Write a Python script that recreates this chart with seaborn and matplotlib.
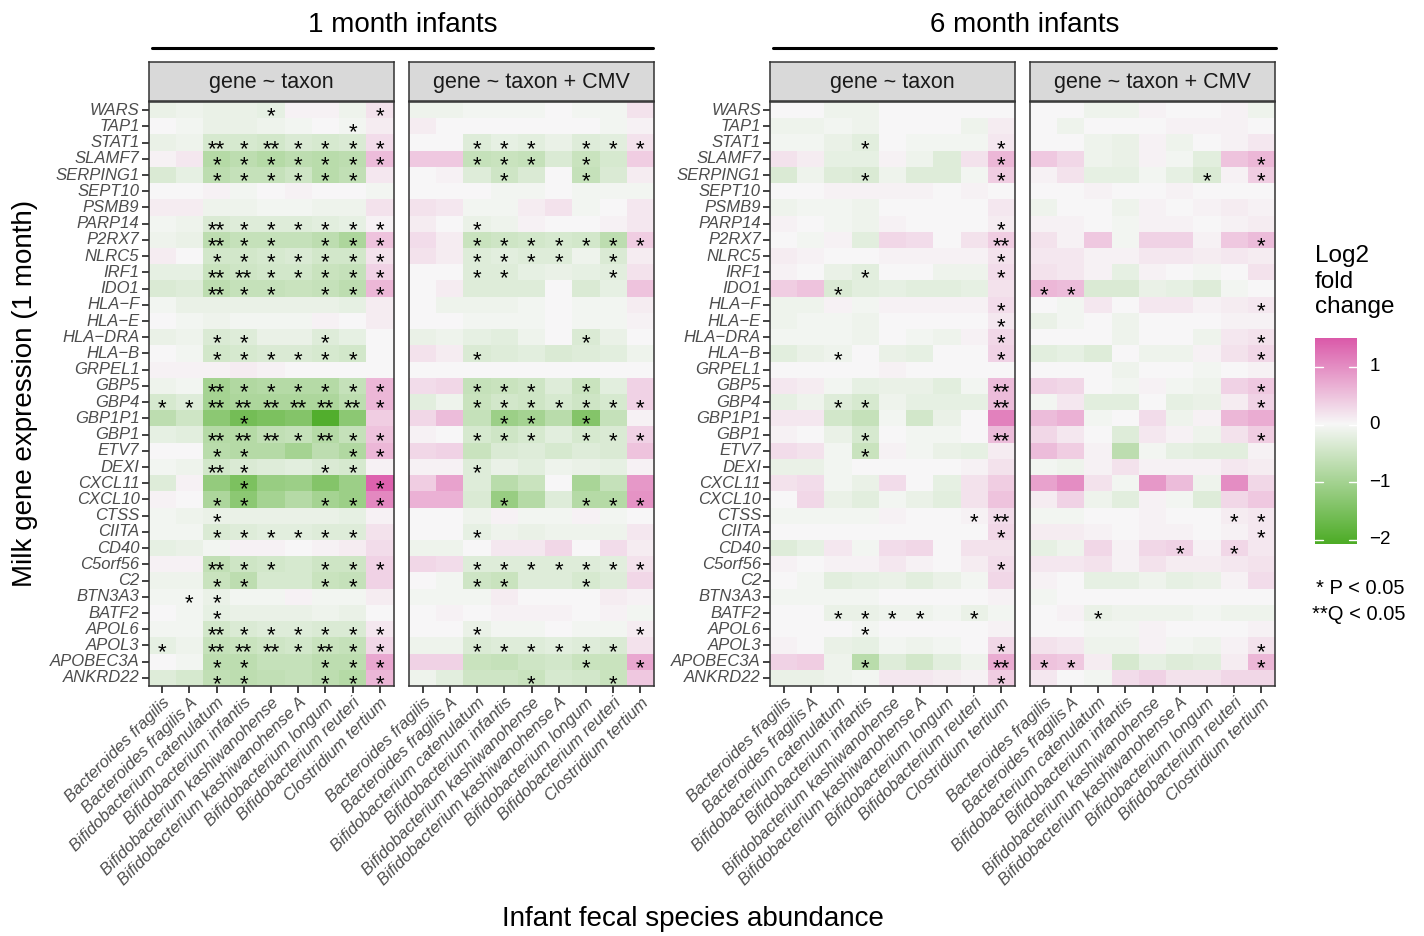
import numpy as np
import pandas as pd
import matplotlib
matplotlib.use("Agg")
import matplotlib.pyplot as plt
import seaborn as sns
from matplotlib.colors import LinearSegmentedColormap, Normalize
from matplotlib.lines import Line2D

# ---------------- data ----------------
genes = ["WARS", "TAP1", "STAT1", "SLAMF7", "SERPING1", "SEPT10", "PSMB9", "PARP14",
         "P2RX7", "NLRC5", "IRF1", "IDO1", "HLA-F", "HLA-E", "HLA-DRA", "HLA-B",
         "GRPEL1", "GBP5", "GBP4", "GBP1P1", "GBP1", "ETV7", "DEXI", "CXCL11",
         "CXCL10", "CTSS", "CIITA", "CD40", "C5orf56", "C2", "BTN3A3", "BATF2",
         "APOL6", "APOL3", "APOBEC3A", "ANKRD22"]

taxa = ["Bacteroides fragilis", "Bacteroides fragilis A", "Bifidobacterium catenulatum",
        "Bifidobacterium infantis", "Bifidobacterium kashiwanohense",
        "Bifidobacterium kashiwanohense A", "Bifidobacterium longum",
        "Bifidobacterium reuteri", "Clostridium tertium"]

panel_titles = ["gene ~ taxon", "gene ~ taxon + CMV", "gene ~ taxon", "gene ~ taxon + CMV"]
group_titles = ["1 month infants", "6 month infants"]

# log2 fold change, rows = genes, cols = taxa
lfc_1m_taxon = [
    [-0.15, -0.10, -0.15, -0.15, -0.20, 0.05, 0.05, -0.10, 0.20],
    [0.00, -0.05, -0.15, -0.15, -0.10, -0.05, 0.00, -0.05, 0.10],
    [-0.15, -0.10, -0.40, -0.40, -0.45, -0.35, -0.40, -0.35, 0.25],
    [0.05, 0.15, -0.80, -0.70, -0.80, -0.70, -0.75, -0.70, 0.55],
    [-0.35, -0.20, -0.70, -0.60, -0.60, -0.50, -0.75, -0.65, 0.15],
    [0.00, 0.00, 0.05, -0.05, 0.00, 0.05, 0.00, 0.00, -0.05],
    [0.10, 0.10, -0.10, -0.10, -0.05, -0.05, -0.10, -0.10, 0.20],
    [-0.05, -0.10, -0.35, -0.30, -0.30, -0.30, -0.25, -0.20, 0.05],
    [-0.10, -0.15, -0.70, -0.60, -0.60, -0.60, -0.70, -0.90, 0.50],
    [0.10, 0.00, -0.45, -0.45, -0.40, -0.35, -0.45, -0.45, 0.20],
    [-0.20, -0.20, -0.55, -0.50, -0.45, -0.45, -0.55, -0.60, 0.35],
    [-0.35, -0.30, -0.70, -0.60, -0.60, -0.55, -0.60, -0.70, 0.60],
    [-0.05, -0.15, -0.15, -0.15, -0.15, -0.15, -0.15, -0.20, 0.10],
    [0.00, -0.05, -0.10, -0.05, -0.05, -0.05, 0.05, 0.00, 0.10],
    [-0.15, -0.10, -0.35, -0.30, -0.15, -0.15, -0.30, -0.20, 0.00],
    [0.00, -0.05, -0.45, -0.40, -0.35, -0.35, -0.40, -0.45, 0.00],
    [0.05, 0.05, 0.05, 0.10, 0.05, 0.00, 0.00, 0.00, 0.00],
    [-0.10, -0.05, -1.00, -0.85, -0.80, -0.80, -0.80, -0.60, 0.60],
    [-0.40, -0.30, -1.00, -0.90, -0.90, -0.90, -0.90, -0.70, 0.60],
    [-0.70, -0.50, -1.30, -1.60, -1.50, -1.40, -2.00, -1.30, 0.40],
    [-0.20, -0.25, -0.80, -0.80, -0.65, -0.60, -0.80, -0.60, 0.50],
    [0.00, 0.00, -0.75, -0.80, -0.80, -1.00, -0.70, -0.85, 0.60],
    [-0.05, -0.10, -0.45, -0.35, -0.30, -0.25, -0.35, -0.40, 0.05],
    [-0.30, 0.05, -1.20, -1.50, -1.15, -1.10, -1.40, -1.10, 1.40],
    [0.05, 0.00, -0.90, -1.30, -1.00, -0.80, -1.00, -1.10, 1.05],
    [-0.05, -0.10, -0.15, -0.15, -0.15, -0.15, -0.15, -0.20, 0.05],
    [-0.05, -0.05, -0.35, -0.30, -0.25, -0.25, -0.30, -0.30, 0.20],
    [-0.20, -0.15, -0.05, 0.05, 0.05, 0.00, 0.05, 0.10, 0.25],
    [0.05, 0.05, -0.65, -0.50, -0.45, -0.40, -0.50, -0.50, 0.35],
    [-0.10, -0.10, -0.55, -0.70, -0.40, -0.40, -0.55, -0.60, 0.35],
    [-0.05, -0.05, -0.15, -0.05, -0.05, 0.05, -0.05, -0.05, 0.10],
    [0.00, -0.05, -0.20, -0.15, -0.15, -0.15, -0.10, -0.15, 0.00],
    [-0.05, -0.05, -0.45, -0.35, -0.30, -0.30, -0.35, -0.35, 0.15],
    [-0.20, -0.10, -0.60, -0.55, -0.50, -0.45, -0.55, -0.60, 0.30],
    [0.00, -0.05, -0.70, -0.70, -0.60, -0.60, -0.70, -0.70, 0.75],
    [-0.30, -0.40, -0.65, -0.70, -0.65, -0.60, -0.70, -0.80, 0.60],
]

lfc_1m_cmv = [
    [-0.10, -0.10, -0.05, -0.05, -0.05, 0.00, -0.05, -0.05, 0.20],
    [0.10, 0.00, 0.00, 0.00, 0.00, 0.00, 0.00, -0.05, 0.05],
    [0.00, 0.00, -0.30, -0.20, -0.25, -0.15, -0.30, -0.25, 0.20],
    [0.45, 0.45, -0.60, -0.55, -0.60, -0.35, -0.55, -0.40, 0.40],
    [0.00, 0.05, -0.30, -0.50, -0.35, 0.00, -0.60, -0.35, 0.10],
    [0.00, 0.00, 0.00, -0.05, -0.05, 0.00, -0.05, -0.05, -0.05],
    [0.20, 0.15, -0.05, -0.05, 0.10, 0.20, -0.05, 0.00, 0.15],
    [0.10, 0.00, -0.15, -0.10, 0.05, 0.00, 0.00, 0.05, 0.15],
    [0.25, 0.10, -0.55, -0.50, -0.45, -0.40, -0.45, -0.70, 0.40],
    [0.20, 0.10, -0.30, -0.25, -0.30, -0.30, -0.10, -0.35, 0.10],
    [0.00, 0.00, -0.30, -0.30, -0.20, -0.15, -0.20, -0.25, 0.20],
    [0.00, 0.10, -0.30, -0.30, -0.30, 0.00, -0.35, -0.20, 0.50],
    [0.00, -0.10, -0.10, -0.10, -0.05, 0.00, -0.05, -0.05, 0.10],
    [0.00, 0.00, -0.05, -0.05, -0.05, 0.00, -0.05, -0.05, 0.05],
    [-0.15, -0.10, -0.20, -0.25, -0.10, 0.00, -0.35, -0.15, 0.00],
    [0.20, 0.10, -0.35, -0.30, -0.25, -0.35, -0.30, -0.25, -0.10],
    [0.00, 0.00, 0.00, 0.00, 0.00, 0.00, 0.00, 0.00, 0.00],
    [0.25, 0.30, -0.60, -0.55, -0.50, -0.30, -0.55, -0.25, 0.35],
    [-0.25, -0.10, -0.55, -0.45, -0.50, -0.40, -0.50, -0.40, 0.35],
    [0.30, 0.55, -0.60, -1.10, -1.00, -0.75, -1.40, -0.60, 0.05],
    [0.05, 0.00, -0.40, -0.50, -0.40, -0.25, -0.40, -0.35, 0.35],
    [0.30, 0.35, -0.55, -0.35, -0.30, -0.40, -0.30, -0.35, 0.50],
    [0.05, 0.05, -0.30, -0.15, -0.25, -0.10, -0.15, -0.20, 0.05],
    [0.40, 0.80, -0.30, -0.75, -0.55, 0.00, -0.95, -0.60, 0.90],
    [0.65, 0.65, -0.35, -1.15, -0.80, -0.30, -0.80, -0.80, 0.95],
    [0.00, 0.00, -0.10, 0.05, -0.05, -0.05, 0.05, -0.05, 0.00],
    [0.00, 0.00, -0.20, -0.10, -0.15, -0.10, -0.10, -0.10, 0.15],
    [-0.10, -0.10, 0.00, 0.15, 0.15, 0.30, 0.00, 0.25, 0.10],
    [0.30, 0.25, -0.30, -0.30, -0.30, -0.30, -0.30, -0.25, 0.20],
    [0.00, -0.05, -0.50, -0.55, -0.30, -0.30, -0.40, -0.30, 0.30],
    [-0.05, -0.05, -0.05, 0.10, 0.00, 0.00, 0.00, 0.10, 0.05],
    [0.00, 0.05, 0.00, 0.05, 0.05, 0.05, 0.00, 0.05, -0.05],
    [0.00, 0.00, -0.15, -0.05, -0.05, 0.00, -0.05, -0.05, 0.10],
    [-0.10, -0.10, -0.35, -0.30, -0.30, -0.25, -0.30, -0.35, 0.20],
    [0.35, 0.35, -0.55, -0.60, -0.50, -0.45, -0.55, -0.55, 0.75],
    [-0.10, -0.25, -0.50, -0.50, -0.55, -0.40, -0.45, -0.55, 0.45],
]

lfc_6m_taxon = [
    [0.00, 0.00, -0.10, -0.10, 0.00, 0.00, 0.00, 0.00, 0.00],
    [-0.10, -0.10, -0.05, -0.10, 0.00, 0.00, 0.00, -0.10, 0.10],
    [-0.05, -0.05, -0.15, -0.25, 0.00, -0.05, -0.05, -0.05, 0.15],
    [0.20, 0.10, -0.20, -0.20, 0.05, -0.10, -0.30, 0.20, 0.60],
    [-0.35, -0.10, -0.30, -0.35, -0.10, -0.30, -0.30, -0.05, 0.40],
    [0.00, 0.00, 0.05, 0.05, 0.05, 0.05, 0.00, 0.05, 0.00],
    [-0.10, -0.05, -0.05, -0.10, 0.00, 0.00, 0.00, 0.00, 0.15],
    [0.05, 0.00, -0.05, -0.10, 0.05, 0.00, 0.00, 0.00, 0.10],
    [0.00, -0.05, 0.05, -0.25, 0.30, 0.25, 0.00, 0.20, 0.40],
    [0.10, 0.05, 0.00, 0.00, 0.05, 0.05, 0.05, 0.05, 0.20],
    [0.05, 0.00, -0.15, -0.25, 0.00, 0.00, -0.10, -0.10, 0.25],
    [0.40, 0.50, -0.35, -0.25, -0.20, -0.25, -0.25, -0.20, 0.20],
    [-0.10, -0.10, 0.05, -0.05, 0.05, 0.05, 0.05, 0.05, 0.25],
    [-0.10, -0.05, -0.05, -0.10, 0.00, 0.00, 0.00, 0.00, 0.15],
    [-0.05, -0.05, -0.05, -0.10, 0.00, -0.05, -0.10, 0.05, 0.30],
    [-0.25, -0.15, -0.10, 0.00, -0.15, -0.20, 0.00, 0.00, 0.35],
    [0.00, 0.00, 0.00, 0.00, 0.05, 0.00, 0.00, 0.00, 0.00],
    [0.15, 0.10, -0.05, -0.20, -0.15, -0.15, -0.25, -0.05, 0.55],
    [-0.20, -0.10, -0.30, -0.40, -0.10, -0.20, -0.20, -0.20, 0.55],
    [0.15, 0.15, -0.45, -0.60, -0.05, -0.45, -0.15, 0.00, 1.10],
    [0.05, 0.00, -0.15, -0.40, 0.00, -0.05, -0.05, 0.00, 0.55],
    [0.25, 0.20, -0.05, -0.55, 0.05, -0.05, -0.15, -0.20, 0.10],
    [-0.15, -0.15, -0.05, 0.00, 0.00, 0.00, 0.00, 0.05, 0.20],
    [0.20, 0.25, -0.05, -0.15, 0.25, 0.00, -0.20, 0.20, 0.40],
    [0.00, 0.30, -0.15, -0.25, -0.05, -0.15, -0.25, 0.20, 0.50],
    [-0.05, -0.05, -0.05, -0.05, 0.05, 0.00, 0.00, 0.05, 0.25],
    [0.00, 0.00, 0.00, 0.00, 0.00, 0.00, 0.00, 0.00, 0.30],
    [-0.30, -0.20, 0.15, -0.05, 0.25, 0.30, 0.00, 0.20, 0.20],
    [0.05, 0.00, 0.05, 0.05, 0.15, 0.05, 0.00, 0.10, 0.25],
    [0.00, -0.05, -0.25, -0.20, -0.15, -0.25, -0.15, -0.05, 0.30],
    [-0.05, -0.05, -0.05, -0.05, 0.00, 0.00, 0.00, 0.00, 0.05],
    [0.00, 0.00, -0.15, -0.15, -0.10, -0.10, -0.05, -0.15, -0.05],
    [0.00, 0.00, 0.00, -0.05, 0.00, 0.00, 0.00, 0.00, 0.05],
    [0.05, 0.00, -0.15, -0.20, -0.05, -0.10, -0.05, 0.00, 0.30],
    [0.35, 0.40, -0.10, -0.75, -0.30, -0.45, -0.25, -0.10, 0.70],
    [-0.15, -0.15, -0.10, -0.05, 0.15, 0.15, 0.10, 0.05, 0.40],
]

lfc_6m_cmv = [
    [0.00, 0.00, -0.10, -0.10, 0.05, 0.00, 0.00, 0.05, -0.10],
    [0.00, -0.10, 0.00, 0.00, 0.00, 0.05, 0.05, 0.05, 0.00],
    [0.00, 0.00, -0.10, -0.15, 0.05, -0.10, 0.00, 0.05, 0.15],
    [0.45, 0.30, -0.10, -0.15, 0.05, -0.05, -0.25, 0.50, 0.60],
    [0.05, 0.20, -0.20, -0.20, -0.05, -0.20, -0.35, 0.05, 0.40],
    [0.00, 0.00, 0.05, 0.00, 0.00, 0.05, 0.00, 0.00, 0.00],
    [-0.10, 0.00, 0.00, -0.10, 0.05, 0.00, 0.05, 0.10, 0.05],
    [0.05, 0.05, 0.00, -0.05, 0.05, 0.05, 0.00, 0.05, 0.10],
    [0.20, 0.05, 0.45, -0.05, 0.35, 0.35, 0.05, 0.45, 0.55],
    [0.15, 0.15, 0.05, 0.05, 0.15, 0.15, 0.10, 0.15, 0.10],
    [0.20, 0.15, 0.05, -0.20, 0.05, 0.00, -0.05, 0.00, 0.20],
    [0.60, 0.55, -0.35, -0.35, -0.15, -0.20, -0.30, -0.05, 0.00],
    [0.00, -0.05, 0.15, 0.00, 0.15, 0.15, 0.05, 0.10, 0.15],
    [-0.15, -0.05, 0.00, -0.10, 0.00, 0.00, 0.00, 0.05, 0.05],
    [0.00, 0.00, 0.00, -0.10, 0.00, 0.00, -0.10, 0.15, 0.20],
    [-0.25, -0.20, -0.30, 0.00, -0.10, -0.10, 0.05, 0.20, 0.30],
    [0.00, 0.00, 0.00, -0.10, 0.00, 0.00, -0.05, 0.00, 0.05],
    [0.35, 0.30, 0.00, -0.05, 0.05, -0.05, -0.10, 0.35, 0.45],
    [-0.05, 0.15, -0.25, -0.25, 0.00, -0.20, -0.15, 0.10, 0.35],
    [0.55, 0.65, -0.05, 0.00, 0.25, -0.10, 0.05, 0.60, 0.70],
    [0.30, 0.15, 0.00, -0.30, 0.15, 0.05, -0.10, 0.20, 0.40],
    [0.55, 0.40, 0.05, -0.70, -0.05, -0.20, -0.25, -0.25, 0.05],
    [-0.05, -0.10, 0.05, 0.20, 0.05, 0.05, 0.05, 0.15, 0.10],
    [0.80, 1.00, 0.20, -0.05, 0.90, 0.55, -0.10, 1.00, 0.30],
    [0.10, 0.35, -0.10, -0.25, 0.05, -0.05, -0.30, 0.30, 0.45],
    [-0.05, -0.05, 0.00, 0.00, 0.05, 0.00, 0.00, 0.10, 0.15],
    [0.10, 0.10, 0.05, 0.00, 0.05, 0.05, 0.00, 0.05, 0.15],
    [-0.20, -0.10, 0.30, 0.05, 0.30, 0.35, 0.05, 0.30, 0.15],
    [0.15, 0.15, 0.20, 0.05, 0.20, 0.10, 0.10, 0.15, 0.20],
    [0.05, 0.00, -0.20, -0.20, -0.10, -0.20, -0.15, 0.05, 0.25],
    [-0.05, 0.00, 0.00, 0.00, 0.00, 0.00, 0.00, 0.00, 0.00],
    [0.00, 0.05, -0.15, -0.10, -0.10, -0.10, -0.05, -0.10, -0.10],
    [0.00, 0.00, -0.05, -0.05, 0.05, 0.00, 0.00, 0.00, 0.05],
    [0.20, 0.15, -0.10, -0.10, 0.05, -0.05, -0.10, 0.05, 0.20],
    [0.50, 0.45, 0.10, -0.40, -0.20, -0.30, -0.25, 0.10, 0.60],
    [0.15, 0.00, -0.05, 0.25, 0.35, 0.20, 0.20, 0.30, 0.30],
]

# significance: digit = number of stars per taxon column ('.' = none)
sig_1m_taxon = [
    "....1...1", ".......1.", "..2121111", "..1111111", "..111111.", ".........",
    ".........", "..2111111", "..211.111", "..1111111", "..2211111", "..211.111",
    ".........", ".........", "..11..1..", "..111111.", ".........", "..2111111",
    "112222221", "...1.....", "..2221211", "..11...11", "..21..11.", "...1....1",
    "..11..111", "..1......", "..111111.", ".........", "..211.111", "..11..11.",
    ".11......", "..1......", "..2111111", "1.2221211", "..11..111", "..11..111",
]
sig_1m_cmv = [
    ".........", ".........", "..111.111", "..111.1..", "...1..1..", ".........",
    ".........", "..1......", "..1111111", "..1111.1.", "..11...1.", ".........",
    ".........", ".........", "......1..", "..1......", ".........", "..111.1..",
    "..1111111", "...11.1..", "..111.111", ".........", "..1......", ".........",
    "...1..111", ".........", "..1......", ".........", "..1111111", "..11..1..",
    ".........", ".........", "..1.....1", "..111111.", "......1.1", "....1..1.",
]
sig_6m_taxon = [
    ".........", ".........", "...1....1", "........1", "...1....1", ".........",
    ".........", "........1", "........2", "........1", "...1....1", "..1......",
    "........1", "........1", "........1", "..1.....1", ".........", "........2",
    "..11....2", ".........", "...1....2", "...1.....", ".........", ".........",
    ".........", ".......12", "........1", ".........", "........1", ".........",
    ".........", "..1111.1.", "...1.....", "........1", "...1....2", "........1",
]
sig_6m_cmv = [
    ".........", ".........", ".........", "........1", "......1.1", ".........",
    ".........", ".........", "........1", ".........", ".........", "11.......",
    "........1", ".........", "........1", "........1", ".........", "........1",
    "........1", ".........", "........1", ".........", ".........", ".........",
    ".........", ".......11", "........1", ".....1.1.", ".........", ".........",
    ".........", "..1......", ".........", "........1", "11......1", ".........",
]

cbar_ticks = [1, 0, -1, -2]

# ---------------- style ----------------
sns.set_style("white")
plt.rcParams["font.family"] = ["Liberation Sans", "DejaVu Sans"]

W, H = 1424, 936
fig = plt.figure(figsize=(W / 100, H / 100), dpi=100)

def box(x0, y0, x1, y1):
    return [x0 / W, 1 - y1 / H, (x1 - x0) / W, (y1 - y0) / H]

LIM = 2.07
cmap = LinearSegmentedColormap.from_list(
    "lfc", [(0.0, "#4DAC26"), (0.5, "#F7F7F7"), (1.0, "#D01C8B")])
norm = Normalize(-LIM, LIM)

gene_disp = [g.replace("-", "\u2212") for g in genes]
values = [lfc_1m_taxon, lfc_1m_cmv, lfc_6m_taxon, lfc_6m_cmv]
sigs = [sig_1m_taxon, sig_1m_cmv, sig_6m_taxon, sig_6m_cmv]
xpos = [(148.5, 393.5), (409, 654), (770, 1015), (1030, 1275)]
PT, PB = 102, 686
ST, SB = 62, 101
EDGE = "#333333"

for i in range(4):
    x0, x1 = xpos[i]
    ax = fig.add_axes(box(x0, PT, x1, PB))
    df = pd.DataFrame(values[i], index=gene_disp, columns=taxa)
    annot = np.array([["*" * int(c) if c != "." else "" for c in s] for s in sigs[i]])
    sns.heatmap(df, ax=ax, cmap=cmap, vmin=-LIM, vmax=LIM, cbar=False,
                annot=annot, fmt="", linewidths=0,
                annot_kws=dict(color="black", fontsize=16),
                xticklabels=taxa, yticklabels=(gene_disp if i in (0, 2) else False))
    for t in ax.texts:
        px, py = t.get_position()
        t.set_position((px, py + 0.42))
    for s in ax.spines.values():
        s.set_visible(True)
        s.set_color(EDGE)
        s.set_linewidth(1.1)
    ax.tick_params(axis="both", which="major", length=5, width=1.3, color=EDGE,
                   labelcolor="#4D4D4D", labelsize=12, pad=1.5,
                   bottom=True, left=(i in (0, 2)))
    for lab in ax.get_xticklabels():
        lab.set_rotation(45)
        lab.set_ha("right")
        lab.set_va("top")
        lab.set_rotation_mode("anchor")
        lab.set_fontstyle("italic")
    if i in (0, 2):
        for lab in ax.get_yticklabels():
            lab.set_rotation(0)
            lab.set_fontstyle("italic")
            lab.set_va("center")
    ax.set_xlabel("")
    ax.set_ylabel("")

    # strip header
    sax = fig.add_axes(box(x0, ST, x1, SB))
    sax.set_facecolor("#D9D9D9")
    sax.set_xticks([])
    sax.set_yticks([])
    for s in sax.spines.values():
        s.set_visible(True)
        s.set_color(EDGE)
        s.set_linewidth(1.1)
    sax.text(0.5, 0.47, panel_titles[i], ha="center", va="center",
             fontsize=15.5, color="#1A1A1A", transform=sax.transAxes)

# group titles with rules
for (lx0, lx1), title in zip([(152, 653), (773, 1276)], group_titles):
    fig.add_artist(Line2D([lx0 / W, lx1 / W], [1 - 47.5 / H] * 2,
                          color="black", lw=2.2, transform=fig.transFigure))
    fig.text((lx0 + lx1) / 2 / W, 1 - 25 / H, title, ha="center", va="center",
             fontsize=20, color="black")

# axis titles
fig.text(25 / W, 1 - 393 / H, "Milk gene expression (1 month)", rotation=90,
         ha="center", va="center", fontsize=20, color="black")
fig.text(693 / W, 1 - 919 / H, "Infant fecal species abundance",
         ha="center", va="center", fontsize=20, color="black")

# colour bar legend
cax = fig.add_axes(box(1315, 338, 1357, 544))
grad = np.linspace(1.5, -LIM, 400)[:, None]
cax.imshow(grad, aspect="auto", cmap=cmap, norm=norm,
           extent=[0, 1, -LIM, 1.5], interpolation="bilinear")
cax.set_xlim(0, 1)
cax.set_ylim(-LIM, 1.5)
cax.axis("off")
for v in cbar_ticks:
    cax.plot([0, 0.2], [v, v], color="white", lw=1)
    cax.plot([0.8, 1], [v, v], color="white", lw=1)
    cax.text(1.3, v, str(v).replace("-", "\u2212"), ha="left", va="center",
             fontsize=13.5, color="black", transform=cax.transData, clip_on=False)

fig.text(1315 / W, 1 - 245 / H, "Log2\nfold\nchange", ha="left", va="top",
         fontsize=17.5, color="black", linespacing=1.22)
fig.text(1405 / W, 1 - 589 / H, "* P < 0.05", ha="right", va="center",
         fontsize=14.5, color="black")
fig.text(1405 / W, 1 - 615 / H, "**Q < 0.05", ha="right", va="center",
         fontsize=14.5, color="black")

fig.savefig("out.png", dpi=100)
